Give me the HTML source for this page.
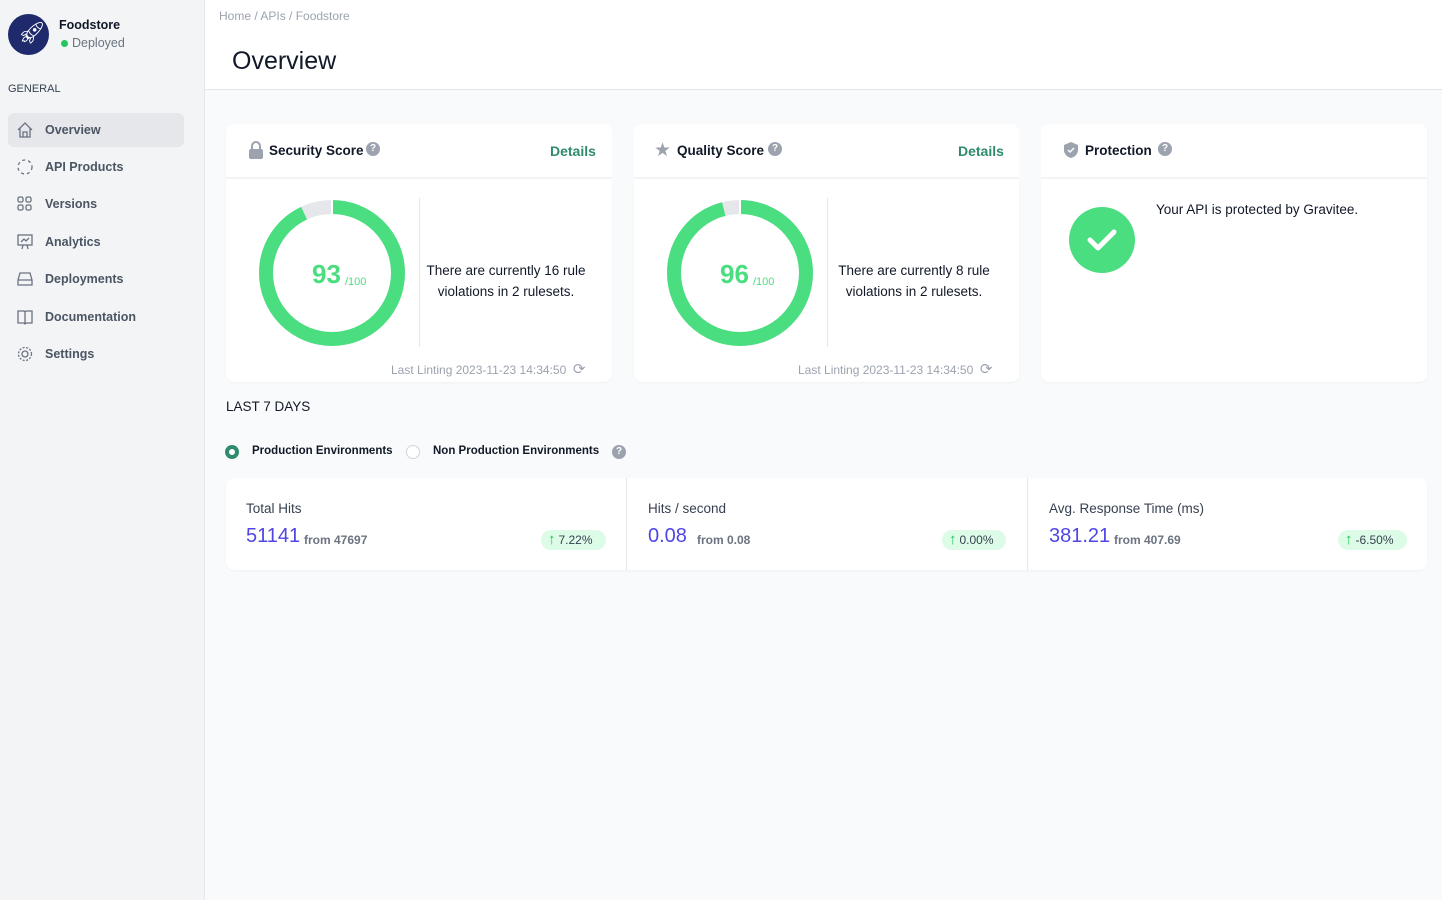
<!DOCTYPE html>
<html><head><meta charset="utf-8"><style>
*{box-sizing:border-box;margin:0;padding:0}
body{width:1442px;height:900px;overflow:hidden;font-family:"Liberation Sans",sans-serif;background:#f9fafb;position:relative;color:#111827}
.a{position:absolute;white-space:nowrap}
#side{left:0;top:0;width:205px;height:900px;background:#f3f4f6;border-right:1px solid #e5e7eb}
.nav{left:8px;width:176px;height:34px;font-size:12.5px;color:#4b5563;font-weight:bold;padding-left:37px;line-height:34px;border-radius:6px}
.nav svg{position:absolute;left:8px;top:8px}
.card{background:#fff;border-radius:8px;box-shadow:0 1px 2px rgba(0,0,0,.04)}
.ct{font-size:13.5px;font-weight:bold;color:#111827}
.q{display:inline-block;width:14px;height:14px;border-radius:50%;background:#9ca3af;color:#fff;font-size:10px;text-align:center;line-height:14px;font-weight:bold}
.det{font-size:14px;color:#2e8b6e;font-weight:bold}
.big{font-size:20px;color:#4f46e5}
.from{font-size:12px;color:#6b7280;font-weight:bold}
.pill{background:#dcfce7;border-radius:10px;height:20px;font-size:12px;color:#374151;line-height:20px;padding:0 7px 0 7px}
.pill b{color:#22c55e;font-weight:normal;margin-right:3px;font-size:15px}
</style></head><body>
<div class="a" id="side"></div>
<div class="a" style="left:8px;top:14px;width:41px;height:41px;border-radius:50%;background:#1e2a6b"></div>
<div class="a" style="left:18px;top:20px;font-size:22px;color:#fff">🚀︎</div>
<div class="a" style="left:59px;top:18px;font-size:12.5px;font-weight:bold">Foodstore</div>
<div class="a" style="left:61px;top:40px;width:7px;height:7px;border-radius:50%;background:#22c55e"></div>
<div class="a" style="left:72px;top:36px;font-size:12.5px;color:#6b7280">Deployed</div>
<div class="a" style="left:8px;top:83px;font-size:11px;color:#374151">GENERAL</div>
<div class="a nav" style="top:113px;background:#e5e7eb">Overview<svg width="18" height="18" viewBox="0 0 18 18" fill="none" stroke="#6b7280" stroke-width="1.3"><path d="M2 9L9 2l7 7M4 7v9h10V7M7 16v-5h4v5"/></svg></div>
<div class="a nav" style="top:150px">API Products<svg width="18" height="18" viewBox="0 0 18 18" fill="none" stroke="#6b7280" stroke-width="1.3" stroke-dasharray="3 3"><circle cx="9" cy="9" r="7"/></svg></div>
<div class="a nav" style="top:187px">Versions<svg width="18" height="18" viewBox="0 0 18 18" fill="none" stroke="#6b7280" stroke-width="1.3"><rect x="2" y="2" width="5" height="5" rx="1.5"/><rect x="10" y="2" width="5" height="5" rx="1.5"/><rect x="2" y="10" width="5" height="5" rx="1.5"/><rect x="10" y="10" width="5" height="5" rx="1.5"/></svg></div>
<div class="a nav" style="top:225px">Analytics<svg width="18" height="18" viewBox="0 0 18 18" fill="none" stroke="#6b7280" stroke-width="1.3"><rect x="2" y="2" width="14" height="10"/><path d="M5 9l3-3 2 2 3-3M7 12l-1 4M11 12l1 4"/></svg></div>
<div class="a nav" style="top:262px">Deployments<svg width="18" height="18" viewBox="0 0 18 18" fill="none" stroke="#6b7280" stroke-width="1.3"><path d="M2 10l2-7h10l2 7v5H2z M2 10h14"/></svg></div>
<div class="a nav" style="top:300px">Documentation<svg width="18" height="18" viewBox="0 0 18 18" fill="none" stroke="#6b7280" stroke-width="1.3"><path d="M2 3h6l1 1 1-1h6v12h-6l-1 1-1-1H2zM9 4v12"/></svg></div>
<div class="a nav" style="top:337px">Settings<svg width="18" height="18" viewBox="0 0 18 18" fill="none" stroke="#6b7280" stroke-width="1.3"><circle cx="9" cy="9" r="6.5" stroke-dasharray="2 1.5"/><circle cx="9" cy="9" r="3"/></svg></div>

<div class="a" style="left:205px;top:0;width:1237px;height:90px;background:#fff;border-bottom:1px solid #e5e7eb"></div>
<div class="a" style="left:219px;top:9px;font-size:12px;color:#9ca3af">Home / APIs / Foodstore</div>
<div class="a" style="left:232px;top:47px;font-size:25px;color:#111827">Overview</div>

<div class="a card" style="left:226px;top:124px;width:386px;height:258px"></div>
<div class="a card" style="left:634px;top:124px;width:385px;height:258px"></div>
<div class="a card" style="left:1041px;top:124px;width:386px;height:258px"></div>
<div class="a" style="left:226px;top:177px;width:1201px;height:2px;background:#f3f4f6"></div>
<div class="a" style="left:612px;top:124px;width:22px;height:60px;background:#f9fafb"></div>
<div class="a" style="left:1019px;top:124px;width:22px;height:60px;background:#f9fafb"></div>

<svg class="a" style="left:248px;top:141px" width="16" height="18" viewBox="0 0 16 18"><path d="M4 8V5a4 4 0 0 1 8 0v3" fill="none" stroke="#9ca3af" stroke-width="2"/><rect x="1" y="8" width="14" height="10" rx="2" fill="#9ca3af"/></svg>
<div class="a ct" style="left:269px;top:143px">Security Score</div>
<div class="a q" style="left:366px;top:142px">?</div>
<div class="a det" style="left:550px;top:143px">Details</div>

<div class="a" style="left:654px;top:139px;font-size:19px;color:#9ca3af">★</div>
<div class="a ct" style="left:677px;top:143px">Quality Score</div>
<div class="a q" style="left:768px;top:142px">?</div>
<div class="a det" style="left:958px;top:143px">Details</div>

<svg class="a" style="left:1062px;top:141px" width="18" height="18" viewBox="0 0 18 18"><path d="M9 1l7 3v5c0 4-3 7-7 8-4-1-7-4-7-8V4z" fill="#9ca3af"/><path d="M6 9l2 2 4-4" stroke="#fff" stroke-width="1.5" fill="none"/></svg>
<div class="a ct" style="left:1085px;top:143px">Protection</div>
<div class="a q" style="left:1158px;top:142px">?</div>

<svg class="a" style="left:252px;top:193px" width="160" height="160">
<circle cx="80" cy="80" r="66" fill="none" stroke="#e5e7eb" stroke-width="14"/>
<circle cx="80" cy="80" r="66" fill="none" stroke="#4ade80" stroke-width="14" stroke-dasharray="385.7 500" transform="rotate(-90 80 80)"/>
<line x1="80" y1="6" x2="80" y2="22" stroke="#fff" stroke-width="2"/>
</svg>
<div class="a" style="left:312px;top:259px;font-size:26px;color:#4ade80;font-weight:bold">93</div>
<div class="a" style="left:345px;top:276px;font-size:11px;color:#4ade80">/100</div>
<div class="a" style="left:419px;top:198px;width:1px;height:149px;background:#e5e7eb"></div>
<div class="a" style="left:420px;top:260px;width:172px;text-align:center;white-space:normal;font-size:13.5px;line-height:21px;color:#111827">There are currently 16 rule violations in 2 rulesets.</div>
<div class="a" style="left:391px;top:360px;font-size:12px;color:#9ca3af">Last Linting 2023-11-23 14:34:50 &nbsp;<span style="font-size:15px">⟳</span></div>

<svg class="a" style="left:660px;top:193px" width="160" height="160">
<circle cx="80" cy="80" r="66" fill="none" stroke="#e5e7eb" stroke-width="14"/>
<circle cx="80" cy="80" r="66" fill="none" stroke="#4ade80" stroke-width="14" stroke-dasharray="398.1 500" transform="rotate(-90 80 80)"/>
<line x1="80" y1="6" x2="80" y2="22" stroke="#fff" stroke-width="2"/>
</svg>
<div class="a" style="left:720px;top:259px;font-size:26px;color:#4ade80;font-weight:bold">96</div>
<div class="a" style="left:753px;top:276px;font-size:11px;color:#4ade80">/100</div>
<div class="a" style="left:827px;top:198px;width:1px;height:149px;background:#e5e7eb"></div>
<div class="a" style="left:828px;top:260px;width:172px;text-align:center;white-space:normal;font-size:13.5px;line-height:21px;color:#111827">There are currently 8 rule violations in 2 rulesets.</div>
<div class="a" style="left:798px;top:360px;font-size:12px;color:#9ca3af">Last Linting 2023-11-23 14:34:50 &nbsp;<span style="font-size:15px">⟳</span></div>

<div class="a" style="left:1069px;top:207px;width:66px;height:66px;border-radius:50%;background:#4ade80"></div>
<svg class="a" style="left:1086px;top:226px" width="32" height="28"><path d="M4 14l8 8 16-16" stroke="#fff" stroke-width="5" fill="none" stroke-linecap="round" stroke-linejoin="round"/></svg>
<div class="a" style="left:1156px;top:202px;font-size:13.5px">Your API is protected by Gravitee.</div>

<div class="a" style="left:226px;top:399px;font-size:13.5px;color:#111827">LAST 7 DAYS</div>
<div class="a" style="left:225px;top:445px;width:14px;height:14px;border-radius:50%;background:#2e8b6e"></div>
<div class="a" style="left:229px;top:449px;width:6px;height:6px;border-radius:50%;background:#fff"></div>
<div class="a" style="left:252px;top:445px;font-size:11.5px;font-weight:bold;color:#111827">Production Environments</div>
<div class="a" style="left:406px;top:445px;width:14px;height:14px;border-radius:50%;border:1px solid #d1d5db;background:#fff"></div>
<div class="a" style="left:433px;top:445px;font-size:11.5px;font-weight:bold;color:#111827">Non Production Environments</div>
<div class="a q" style="left:612px;top:445px">?</div>

<div class="a card" style="left:226px;top:478px;width:1201px;height:92px"></div>
<div class="a" style="left:626px;top:478px;width:1px;height:92px;background:#e5e7eb"></div>
<div class="a" style="left:1027px;top:478px;width:1px;height:92px;background:#e5e7eb"></div>

<div class="a" style="left:246px;top:501px;font-size:13.5px;color:#374151">Total Hits</div>
<div class="a big" style="left:246px;top:525px">51141</div>
<div class="a from" style="left:304px;top:533px">from 47697</div>
<div class="a pill" style="left:541px;top:530px;width:65px"><b>↑</b>7.22%</div>

<div class="a" style="left:648px;top:501px;font-size:13.5px;color:#374151">Hits / second</div>
<div class="a big" style="left:648px;top:525px">0.08</div>
<div class="a from" style="left:697px;top:533px">from 0.08</div>
<div class="a pill" style="left:942px;top:530px;width:64px"><b>↑</b>0.00%</div>

<div class="a" style="left:1049px;top:501px;font-size:13.5px;color:#374151">Avg. Response Time (ms)</div>
<div class="a big" style="left:1049px;top:525px">381.21</div>
<div class="a from" style="left:1114px;top:533px">from 407.69</div>
<div class="a pill" style="left:1338px;top:530px;width:69px"><b>↑</b>-6.50%</div>
</body></html>
